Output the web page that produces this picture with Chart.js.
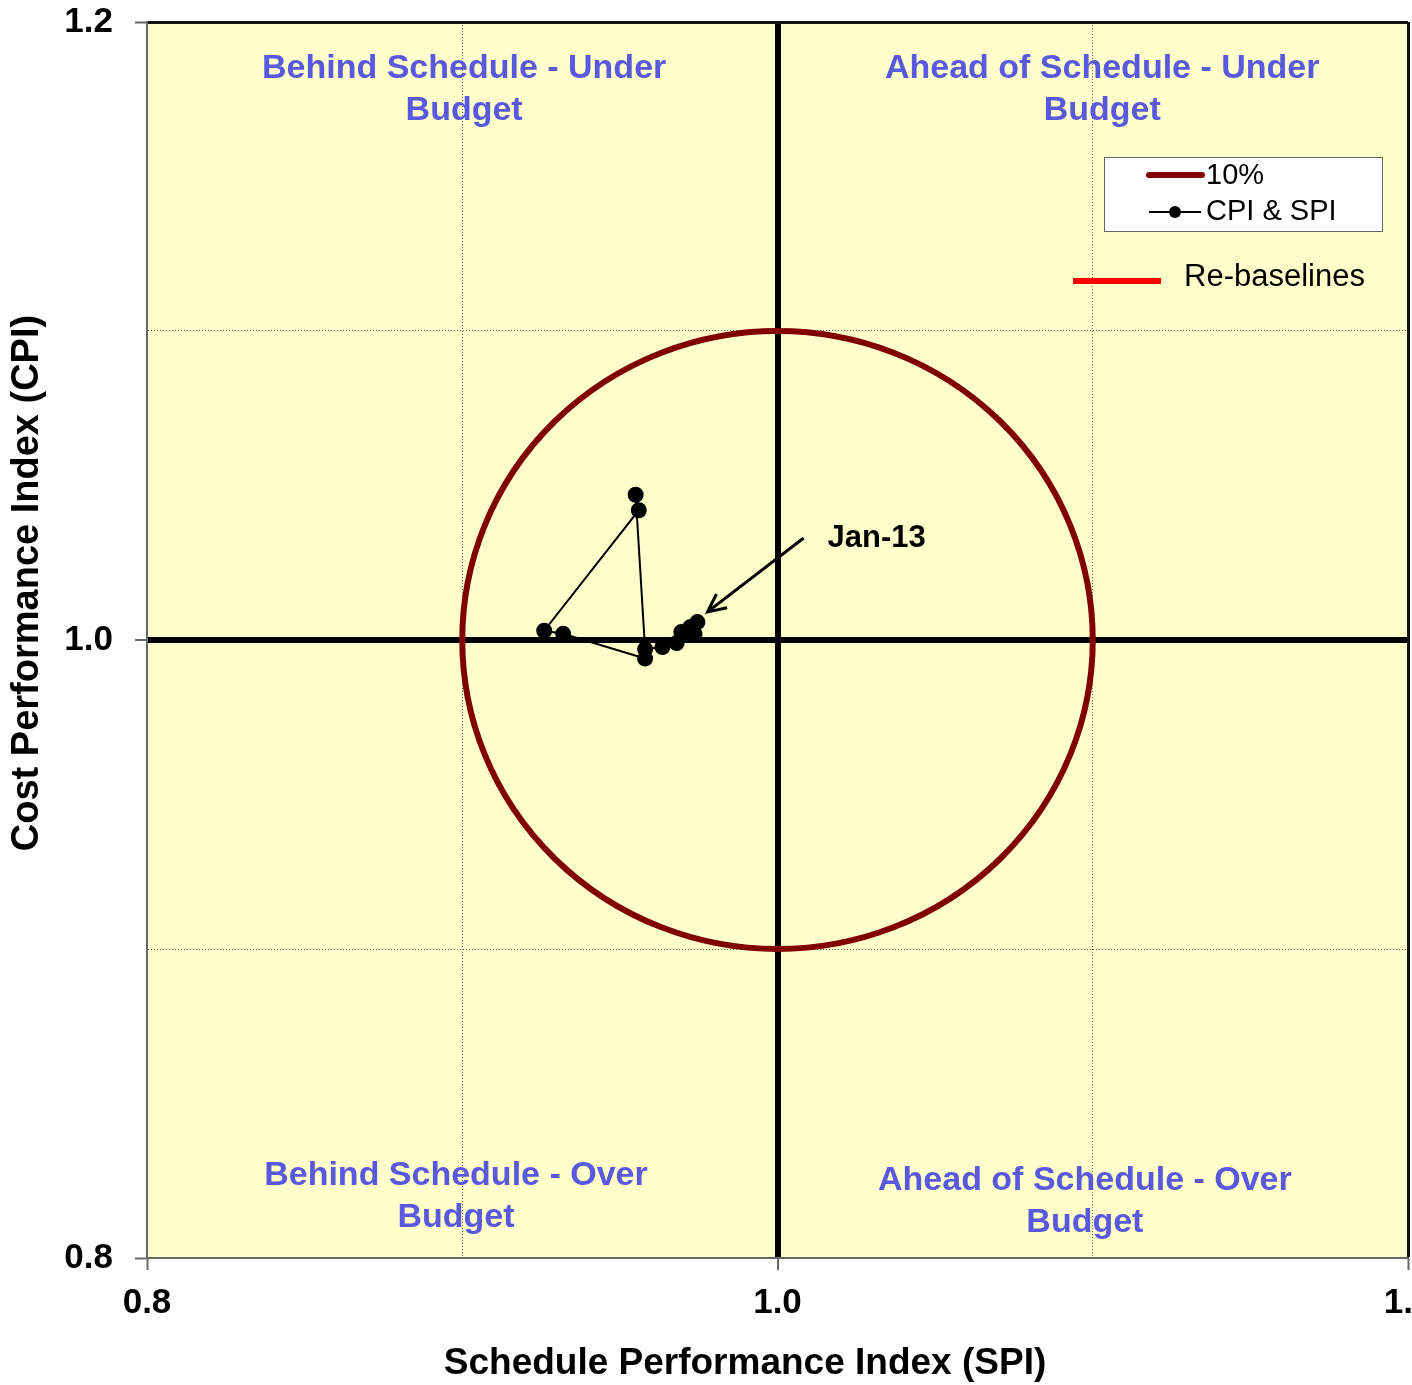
<!DOCTYPE html>
<html>
<head>
<meta charset="utf-8">
<script src="https://cdn.jsdelivr.net/npm/chart.js@4/dist/chart.umd.min.js"></script>
<style>
  html, body { margin: 0; padding: 0; background: #fff; }
</style>
</head>
<body>
<canvas id="chart" width="1412" height="1385"></canvas>
<script>
// monthly CPI / SPI readings, oldest first (last one = Jan-13)
const spi = [0.958, 0.932, 0.926, 0.956, 0.955, 0.958, 0.9635, 0.968, 0.9695, 0.9737, 0.9724, 0.9746];
const cpi = [0.994, 1.002, 1.003, 1.042, 1.047, 0.997, 0.9977, 0.999, 1.0026, 1.0019, 1.0042, 1.0058];
const tickLabels = ['0.8', '1.0', '1.2'];
const thresholdCenter = [1.0, 1.0];
const thresholdRadius = 0.1;   // 10% band
const quadrantNames = [
  ['Behind Schedule - Under', 'Budget'],
  ['Ahead of Schedule - Under', 'Budget'],
  ['Behind Schedule - Over', 'Budget'],
  ['Ahead of Schedule - Over', 'Budget']
];
const calloutText = 'Jan-13';

const quadrantPos = [[0.9006, 1.185], [1.103, 1.185], [0.898, 0.8265], [1.0975, 0.8252]];
const calloutFrom = [1.0083, 1.033];
const calloutTo = [0.9778, 1.0091];
const calloutAt = [1.0159, 1.033];

const ARIAL = '"Liberation Sans", Arial, sans-serif';
const QUAD_BLUE = '#5858e0';

const r1 = v => Math.round(v * 10) / 10;

const extras = {
  id: 'extras',
  beforeDraw(chart) {
    const { ctx, chartArea: a } = chart;
    ctx.save();
    ctx.fillStyle = '#ffffcc';
    ctx.fillRect(a.left, a.top, a.right - a.left, a.bottom - a.top);
    ctx.restore();
  },
  beforeDatasetsDraw(chart) {
    const { ctx, scales: { x, y } } = chart;
    // 10% circle
    const cx = x.getPixelForValue(thresholdCenter[0]);
    const cy = y.getPixelForValue(thresholdCenter[1]);
    const rx = x.getPixelForValue(thresholdCenter[0] + thresholdRadius) - cx;
    const ry = cy - y.getPixelForValue(thresholdCenter[1] + thresholdRadius);
    ctx.save();
    ctx.strokeStyle = '#800000';
    ctx.lineWidth = 6;
    ctx.beginPath();
    ctx.ellipse(cx, cy, rx, ry, 0, 0, Math.PI * 2);
    ctx.stroke();

    // quadrant names
    ctx.fillStyle = QUAD_BLUE;
    ctx.font = 'bold 34px ' + ARIAL;
    ctx.textAlign = 'center';
    ctx.textBaseline = 'middle';
    quadrantNames.forEach((lines, i) => {
      const px = x.getPixelForValue(quadrantPos[i][0]);
      const py = y.getPixelForValue(quadrantPos[i][1]);
      lines.forEach((t, j) => ctx.fillText(t, px, py + j * 42));
    });
    ctx.restore();
  },
  afterDatasetsDraw(chart) {
    const { ctx, scales: { x, y } } = chart;
    ctx.save();
    // callout arrow
    const x0 = x.getPixelForValue(calloutFrom[0]), y0 = y.getPixelForValue(calloutFrom[1]);
    const x1 = x.getPixelForValue(calloutTo[0]), y1 = y.getPixelForValue(calloutTo[1]);
    const ang = Math.atan2(y1 - y0, x1 - x0);
    ctx.strokeStyle = '#000';
    ctx.lineWidth = 3;
    ctx.beginPath();
    ctx.moveTo(x0, y0);
    ctx.lineTo(x1, y1);
    ctx.moveTo(x1 - 20 * Math.cos(ang - 0.45), y1 - 20 * Math.sin(ang - 0.45));
    ctx.lineTo(x1, y1);
    ctx.lineTo(x1 - 20 * Math.cos(ang + 0.45), y1 - 20 * Math.sin(ang + 0.45));
    ctx.stroke();
    ctx.fillStyle = '#000';
    ctx.font = 'bold 31px ' + ARIAL;
    ctx.textBaseline = 'middle';
    ctx.fillText(calloutText, x.getPixelForValue(calloutAt[0]), y.getPixelForValue(calloutAt[1]));

    // legend box
    ctx.fillStyle = '#fff';
    ctx.fillRect(1104, 157, 278, 74);
    ctx.strokeStyle = '#666';
    ctx.lineWidth = 1;
    ctx.strokeRect(1104.5, 157.5, 278, 74);
    ctx.lineCap = 'round';
    ctx.strokeStyle = '#800000';
    ctx.lineWidth = 6;
    ctx.beginPath(); ctx.moveTo(1149, 175); ctx.lineTo(1202, 175); ctx.stroke();
    ctx.lineCap = 'butt';
    ctx.strokeStyle = '#000';
    ctx.fillStyle = '#000';
    ctx.lineWidth = 2;
    ctx.beginPath(); ctx.moveTo(1149, 212); ctx.lineTo(1201, 212); ctx.stroke();
    ctx.beginPath(); ctx.arc(1175, 212, 6, 0, Math.PI * 2); ctx.fill();
    ctx.font = '29px ' + ARIAL;
    ctx.fillText('10%', 1206, 176);
    ctx.fillText('CPI & SPI', 1206, 212);
    ctx.strokeStyle = '#ff0000';
    ctx.lineWidth = 6;
    ctx.beginPath(); ctx.moveTo(1073, 281); ctx.lineTo(1161, 281); ctx.stroke();
    ctx.font = '31px ' + ARIAL;
    ctx.fillText('Re-baselines', 1184, 277);

    // axis titles
    ctx.textAlign = 'center';
    ctx.font = 'bold 37px ' + ARIAL;
    ctx.fillText('Schedule Performance Index (SPI)', 745, 1364);
    ctx.font = 'bold 38px ' + ARIAL;
    ctx.translate(28, 583);
    ctx.rotate(-Math.PI / 2);
    ctx.fillText('Cost Performance Index (CPI)', 0, 0);
    ctx.restore();
  }
};

const gridStyle = {
  color: c => {
    const v = r1(c.tick.value);
    if (v === 1.0) return '#000';
    if (v === 1.2) return '#111';
    if (v === 0.8) return 'rgba(0,0,0,0)';
    return '#666';
  },
  lineWidth: c => {
    const v = r1(c.tick.value);
    if (v === 1.0) return 6;
    if (v === 1.2) return 3;
    return 1;
  },
  tickColor: c => (r1(c.tick.value) * 10) % 2 === 0 ? '#666' : 'rgba(0,0,0,0)',
  tickWidth: 2,
  tickLength: 12,
  drawOnChartArea: true
};
const borderStyle = {
  color: '#666',
  width: 2,
  dash: c => [0.9, 1.1].includes(r1(c.tick.value)) ? [1, 2] : []
};
const tickStyle = {
  stepSize: 0.1,
  color: '#000',
  font: { family: ARIAL, size: 35, weight: 'bold' },
  maxRotation: 0,
  autoSkip: false,
  callback: v => {
    const i = [0.8, 1.0, 1.2].indexOf(r1(v));
    return i < 0 ? '' : tickLabels[i];
  }
};

new Chart(document.getElementById('chart'), {
  type: 'scatter',
  data: {
    datasets: [{
      label: 'CPI & SPI',
      data: spi.map((s, i) => ({ x: s, y: cpi[i] })),
      showLine: true,
      borderColor: '#000',
      backgroundColor: '#000',
      borderWidth: 2,
      pointRadius: 7,
      pointHoverRadius: 7
    }]
  },
  options: {
    responsive: false,
    animation: false,
    devicePixelRatio: 1,
    layout: { autoPadding: false, padding: { top: 22, right: 4, left: 0, bottom: 0 } },
    plugins: { legend: { display: false }, tooltip: { enabled: false } },
    scales: {
      x: {
        type: 'linear', min: 0.8, max: 1.2,
        grid: gridStyle, border: borderStyle,
        ticks: { ...tickStyle, padding: 12 },
        afterFit: s => { s.height = 127; s.paddingLeft = 0; s.paddingRight = 0; }
      },
      y: {
        type: 'linear', min: 0.8, max: 1.2,
        grid: gridStyle, border: borderStyle,
        ticks: { ...tickStyle, padding: 22 },
        afterFit: s => { s.width = 147; s.paddingTop = 0; s.paddingBottom = 0; }
      }
    }
  },
  plugins: [extras]
});
</script>
</body>
</html>
